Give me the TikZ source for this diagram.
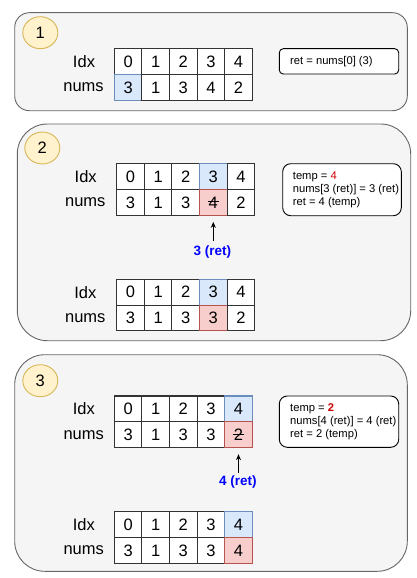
\documentclass[tikz,border=0pt]{standalone}
\usepackage{fontspec}
\setmainfont{Liberation Sans}
\usetikzlibrary{arrows.meta,shapes.geometric}
\definecolor{panelfill}{HTML}{F5F5F5}
\definecolor{panelline}{HTML}{666666}
\definecolor{circfill}{HTML}{FFF2CC}
\definecolor{circline}{HTML}{D6B656}
\definecolor{bluefill}{HTML}{DAE8FC}
\definecolor{blueline}{HTML}{6C8EBF}
\definecolor{redfill}{HTML}{F8CECC}
\definecolor{redline}{HTML}{B85450}
\definecolor{gridline}{HTML}{333333}
\definecolor{rettext}{HTML}{0000FF}
\definecolor{tmptext}{HTML}{CC0000}
\tikzset{
  panel/.style={draw=panelline, fill=panelfill, line width=0.9pt},
  stepcirc/.style={ellipse, draw=circline, fill=circfill, line width=0.9pt, minimum width=35pt, minimum height=32pt, inner sep=0, font=\fontsize{16.5}{18}\selectfont},
  cellbox/.style={draw=gridline, fill=white, line width=1.1pt, minimum width=27.6pt, inner sep=0, font=\fontsize{16.5}{18}\selectfont},
  rowlbl/.style={font=\fontsize{16.5}{18}\selectfont, inner sep=0},
  notebox/.style={draw=black, fill=white, line width=0.9pt},
  notetext/.style={align=left, anchor=west, inner sep=0, font=\fontsize{11.2}{13.3}\selectfont},
  retlbl/.style={text=rettext, font=\bfseries\fontsize{13.5}{15}\selectfont, inner sep=0},
  arr/.style={-{Stealth[length=6pt,width=5pt]}, line width=0.9pt},
  strikeline/.style={line width=0.9pt}
}
\newcommand\cellrow[5]{%
  \foreach \f/\d/\v [count=\k from 0] in {#5}{%
    \node[cellbox, fill=\f, draw=\d, minimum height=#4] (#1\k) at ({#2+(\k+0.5)*27.6}, #3) {\v};}}
\begin{document}
\begin{tikzpicture}[x=1pt, y=-1pt]
\useasboundingbox (0,0) rectangle (417,578);

% ---------- panel 1 ----------
\draw[panel, rounded corners=14.7pt] (14.7,12.7) rectangle (407.3,110.7);
\node[stepcirc] (c1) at (40.3,32.7) {1};
\node[rowlbl] (l1a) at (84,61.6) {Idx};
\node[rowlbl] (l1b) at (83.5,87.4) {nums};
\cellrow{t1i}{114.3}{61.6}{25.8pt}{white/gridline/0,white/gridline/1,white/gridline/2,white/gridline/3,white/gridline/4}
\cellrow{t1n}{114.3}{87.4}{25.8pt}{bluefill/blueline/3,white/gridline/1,white/gridline/3,white/gridline/4,white/gridline/2}
\draw[notebox, rounded corners=4pt] (279.3,48.7) rectangle (398.7,74);
\node[notetext] (n1) at (290,61.3) {ret = nums[0] (3)};

% ---------- panel 2 ----------
\draw[panel, rounded corners=30pt] (17.3,124) rectangle (410.7,340.7);
\node[stepcirc] (c2) at (42.3,148) {2};
\node[rowlbl] (l2a) at (85.7,176.6) {Idx};
\node[rowlbl] (l2b) at (85.3,202.4) {nums};
\cellrow{t2i}{116.7}{176.6}{25.8pt}{white/gridline/0,white/gridline/1,white/gridline/2,bluefill/blueline/3,white/gridline/4}
\cellrow{t2n}{116.7}{202.4}{25.8pt}{white/gridline/3,white/gridline/1,white/gridline/3,redfill/redline/4,white/gridline/2}
\draw[strikeline] ([xshift=-5.5pt,yshift=1pt]t2n3.center) -- ([xshift=5.5pt,yshift=1pt]t2n3.center);
\coordinate (a2) at ([yshift=-25pt]t2n3.south);
\draw[arr, shorten >=6pt] (a2) -- (t2n3.south);
\node[retlbl] (r2) at (212.5,251.7) {3 (ret)};
\draw[notebox, rounded corners=8pt] (282.7,163.7) rectangle (401.3,215.7);
\node[notetext] (n2) at (292.7,189.7) {temp = \textcolor{tmptext}{4}\\nums[3 (ret)] = 3 (ret)\\ret = 4 (temp)};
\node[rowlbl] (l2c) at (85.3,292.2) {Idx};
\node[rowlbl] (l2d) at (85.3,318) {nums};
\cellrow{t2j}{116.7}{292.2}{25.8pt}{white/gridline/0,white/gridline/1,white/gridline/2,bluefill/blueline/3,white/gridline/4}
\cellrow{t2m}{116.7}{318}{25.8pt}{white/gridline/3,white/gridline/1,white/gridline/3,redfill/redline/3,white/gridline/2}

% ---------- panel 3 ----------
\draw[panel, rounded corners=30pt] (14.7,354.7) rectangle (407.3,571.3);
\node[stepcirc] (c3) at (40.3,380.7) {3};
\node[rowlbl] (l3a) at (83.8,408.9) {Idx};
\node[rowlbl] (l3b) at (83.7,434.7) {nums};
\cellrow{t3i}{114.3}{408.9}{25.8pt}{white/gridline/0,white/gridline/1,white/gridline/2,white/gridline/3,bluefill/blueline/4}
\cellrow{t3n}{114.3}{434.7}{25.8pt}{white/gridline/3,white/gridline/1,white/gridline/3,white/gridline/3,redfill/redline/2}
\draw[strikeline] ([xshift=-5.5pt,yshift=0.5pt]t3n4.center) -- ([xshift=5.5pt,yshift=0.5pt]t3n4.center);
\coordinate (a3) at ([yshift=-24.4pt]t3n4.south);
\draw[arr, shorten >=6pt] (a3) -- (t3n4.south);
\node[retlbl] (r3) at (238,481.7) {4 (ret)};
\draw[notebox, rounded corners=8pt] (279.3,396) rectangle (398.7,447.3);
\node[notetext] (n3) at (290,421.7) {temp = \textcolor{tmptext}{\bfseries 2}\\nums[4 (ret)] = 4 (ret)\\ret = 2 (temp)};
\node[rowlbl] (l3c) at (83.8,524.6) {Idx};
\node[rowlbl] (l3d) at (83.7,550.4) {nums};
\cellrow{t3j}{114.3}{524.6}{25.8pt}{white/gridline/0,white/gridline/1,white/gridline/2,white/gridline/3,bluefill/blueline/4}
\cellrow{t3m}{114.3}{550.4}{25.8pt}{white/gridline/3,white/gridline/1,white/gridline/3,white/gridline/3,redfill/redline/4}
\end{tikzpicture}
\end{document}
